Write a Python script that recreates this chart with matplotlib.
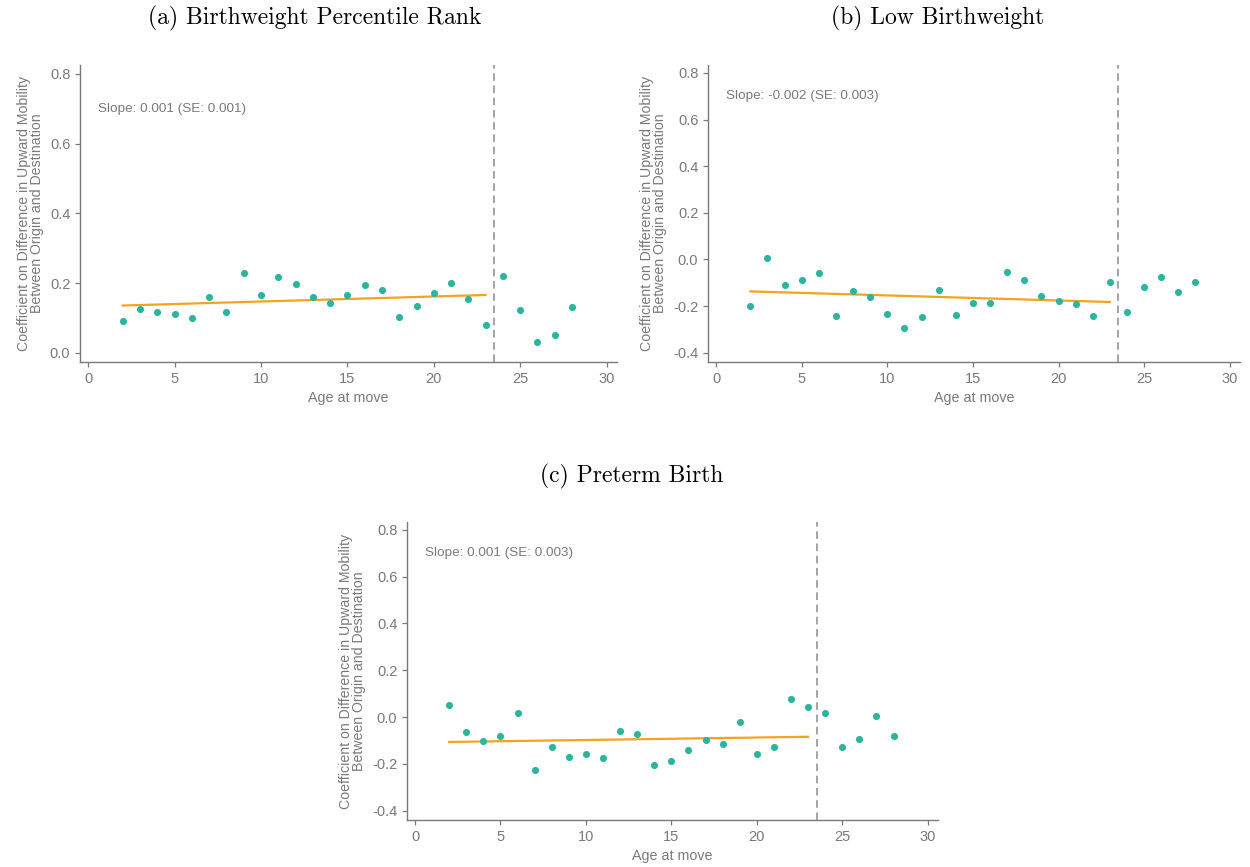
import numpy as np
import matplotlib
matplotlib.use('Agg')
import matplotlib.pyplot as plt

plt.rcParams['font.family'] = ['Liberation Sans', 'DejaVu Sans']
plt.rcParams['axes.unicode_minus'] = False

# Возраст при переезде
ages = list(range(2, 29))

# (a) Birthweight Percentile Rank
bw_rank = [0.090, 0.126, 0.116, 0.112, 0.100, 0.160, 0.116, 0.229, 0.167, 0.218,
           0.198, 0.160, 0.142, 0.165, 0.195, 0.181, 0.103, 0.134, 0.173, 0.199,
           0.154, 0.081, 0.219, 0.123, 0.032, 0.050, 0.131]

# (b) Low Birthweight
low_bw = [-0.200, 0.007, -0.111, -0.088, -0.058, -0.244, -0.135, -0.161, -0.235, -0.295,
          -0.245, -0.130, -0.238, -0.187, -0.187, -0.056, -0.088, -0.155, -0.179, -0.191,
          -0.244, -0.098, -0.224, -0.118, -0.077, -0.138, -0.095]

# (c) Preterm Birth
preterm = [0.053, -0.063, -0.104, -0.080, 0.016, -0.226, -0.129, -0.171, -0.159, -0.173,
           -0.061, -0.071, -0.203, -0.187, -0.139, -0.100, -0.116, -0.021, -0.157, -0.127,
           0.079, 0.041, 0.016, -0.130, -0.093, 0.006, -0.083]

titles = ['(a) Birthweight Percentile Rank', '(b) Low Birthweight', '(c) Preterm Birth']
slope_texts = ['Slope: 0.001 (SE: 0.001)', 'Slope: -0.002 (SE: 0.003)', 'Slope: 0.001 (SE: 0.003)']
yticks_list = [[0.0, 0.2, 0.4, 0.6, 0.8],
               [-0.4, -0.2, 0.0, 0.2, 0.4, 0.6, 0.8],
               [-0.4, -0.2, 0.0, 0.2, 0.4, 0.6, 0.8]]
ylims = [(-0.026, 0.825), (-0.44, 0.834), (-0.44, 0.834)]

cutoff = 23.5
fit_max_age = 23

GRAY = '#7a7a7a'
TEAL = '#2bb5a0'
ORANGE = '#f5a31f'


def draw_panel(ax, values, title, slope_text, yticks, ylim):
    x = np.array(ages)
    y = np.array(values)
    ax.scatter(x, y, s=26, color=TEAL, zorder=3, linewidths=0)

    # линейная аппроксимация для возрастов до 23
    mask = x <= fit_max_age
    k, b = np.polyfit(x[mask], y[mask], 1)
    xf = np.array([x[mask].min(), x[mask].max()])
    ax.plot(xf, k * xf + b, color=ORANGE, linewidth=1.6, zorder=2)

    ax.axvline(cutoff, color='#8c8c8c', linestyle=(0, (5, 3)), linewidth=1.1, zorder=1)

    ax.text(0.6, 0.70, slope_text, color=GRAY, fontsize=9.7, va='center', ha='left')

    ax.set_xlim(-0.47, 30.6)
    ax.set_ylim(*ylim)
    ax.set_xticks([0, 5, 10, 15, 20, 25, 30])
    ax.set_yticks(yticks)
    ax.set_yticklabels([f'{t:.1f}' for t in yticks])

    for side in ['top', 'right']:
        ax.spines[side].set_visible(False)
    for side in ['left', 'bottom']:
        ax.spines[side].set_color(GRAY)
        ax.spines[side].set_linewidth(1.0)
    ax.tick_params(colors=GRAY, labelcolor=GRAY, labelsize=10.5, length=3.5, width=0.9)

    ax.set_xlabel('Age at move', color=GRAY, fontsize=10.3, labelpad=4)
    ax.set_ylabel('Coefficient on Difference in Upward Mobility\nBetween Origin and Destination',
                  color=GRAY, fontsize=10.2, labelpad=4, linespacing=0.95)


fig = plt.figure(figsize=(12.5, 8.67), dpi=100)
ax_a = fig.add_axes([0.064, 0.5825, 0.4296, 0.3425])
ax_b = fig.add_axes([0.5664, 0.5825, 0.4256, 0.3425])
ax_c = fig.add_axes([0.3256, 0.0542, 0.4248, 0.3438])

for ax, vals, t, st, yt, yl in zip([ax_a, ax_b, ax_c], [bw_rank, low_bw, preterm],
                                   titles, slope_texts, yticks_list, ylims):
    draw_panel(ax, vals, t, st, yt, yl)

title_pos = [(0.252, 0.979), (0.750, 0.979), (0.505, 0.451)]
for t, (tx, ty) in zip(titles, title_pos):
    fig.text(tx, ty, t, fontfamily='cmr10', fontsize=17, ha='center', va='center', color='black')

plt.savefig('out.png', dpi=100)
